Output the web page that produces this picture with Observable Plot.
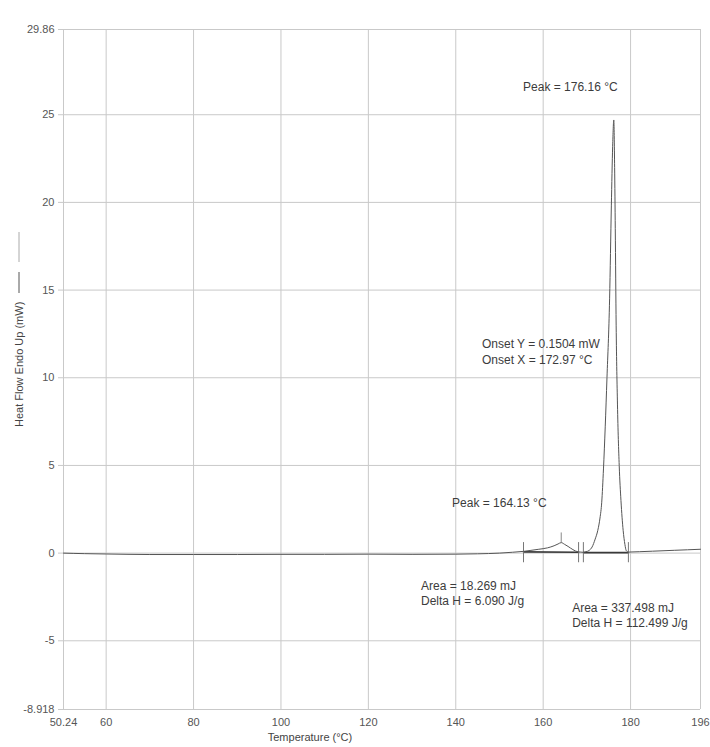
<!DOCTYPE html>
<html>
<head>
<meta charset="utf-8">
<script src="https://cdn.jsdelivr.net/npm/d3@7"></script>
<script src="https://cdn.jsdelivr.net/npm/@observablehq/plot@0.6"></script>
<style>
  html, body { margin: 0; padding: 0; background: #fff; }
  #chart { width: 710px; height: 747px; }
  svg { font-family: "Liberation Sans", Arial, sans-serif; }
</style>
</head>
<body>
<div id="chart"></div>
<script>
// Temperature (°C) and heat flow (mW)
const temperature = [50.24, 55, 60, 70, 80, 90, 100, 110, 120, 130, 140, 145, 150, 153, 155.5, 157, 159, 161, 162.5, 163.4, 164.13, 164.9, 165.7, 166.8, 168, 169, 169.8, 170.5, 171.2, 171.9, 172.5, 173.0, 173.4, 173.8, 174.2, 174.6, 175.2, 175.6, 175.9, 176.16, 176.35, 176.5, 176.7, 177.0, 177.4, 177.8, 178.3, 178.7, 179.0, 179.5, 182, 185, 190, 196];
const heatFlow    = [0.0, -0.03, -0.05, -0.08, -0.08, -0.08, -0.07, -0.07, -0.06, -0.07, -0.06, -0.04, 0.0, 0.05, 0.1, 0.15, 0.22, 0.3, 0.42, 0.52, 0.6, 0.5, 0.38, 0.2, 0.07, 0.05, 0.08, 0.15, 0.35, 0.8, 1.3, 2.0, 2.9, 4.8, 7.2, 10.0, 14.5, 19.8, 23.2, 24.7, 22.0, 18.5, 13.0, 8.5, 5.0, 3.0, 1.3, 0.5, 0.15, 0.06, 0.08, 0.11, 0.16, 0.22];

// Integration baselines and their limit markers
const baseStartT = [155.5, 169.2];
const baseEndT   = [168.1, 179.5];
const baseStartY = [0.07, 0.03];
const baseEndY   = [0.05, 0.03];
const limitT     = [155.5, 168.1, 169.2, 179.5];
const peakMarkT  = [164.13];

// Axis ticks
const xTicks = [50.24, 60, 80, 100, 120, 140, 160, 180, 196];
const yTicks = [-8.918, -5, 0, 5, 10, 15, 20, 25, 29.86];

// Annotations (anchored in data units)
const noteText = ["Peak = 176.16 °C", "Onset Y = 0.1504 mW", "Onset X = 172.97 °C", "Peak = 164.13 °C", "Area = 18.269 mJ", "Delta H = 6.090 J/g", "Area = 337.498 mJ", "Delta H = 112.499 J/g"];
const noteT    = [155.4, 146.0, 146.0, 139.15, 132.05, 132.05, 166.64, 166.64];
const noteY    = [26.6, 11.94, 11.03, 2.86, -1.89, -2.74, -3.14, -4.0];

const curve = temperature.map((t, i) => ({T: t, hf: heatFlow[i]}));
const baselines = baseStartT.flatMap((t, i) => [
  {seg: i, T: t, hf: baseStartY[i]},
  {seg: i, T: baseEndT[i], hf: baseEndY[i]}
]);
const notes = noteText.map((s, i) => ({text: s, T: noteT[i], hf: noteY[i]}));

const ink = "#4a4a4a";
const gridColor = "#c9c9c9";

const plot = Plot.plot({
  width: 710,
  height: 747,
  marginLeft: 63,
  marginRight: 10,
  marginTop: 29,
  marginBottom: 38,
  style: {fontFamily: "Liberation Sans, Arial, sans-serif", fontSize: "11px", color: ink, background: "#fff"},
  x: {domain: [50.24, 196]},
  y: {domain: [-8.918, 29.86]},
  marks: [
    Plot.gridX(xTicks, {stroke: gridColor, strokeOpacity: 1}),
    Plot.gridY(yTicks, {stroke: gridColor, strokeOpacity: 1}),
    Plot.axisX({ticks: xTicks, tickSize: 0, tickPadding: 9, tickFormat: d => String(d), label: null, fill: "#555"}),
    Plot.axisY({ticks: yTicks, tickSize: 5, tickPadding: 4, tickFormat: d => String(d), label: null, stroke: gridColor, fill: "#555"}),
    Plot.line(baselines, {x: "T", y: "hf", z: "seg", stroke: "#3a3a3a", strokeWidth: 1.6}),
    Plot.ruleX(limitT, {y1: -0.55, y2: 0.6, stroke: "#777", strokeWidth: 1}),
    Plot.ruleX(peakMarkT, {y1: 0.6, y2: 1.15, stroke: "#888", strokeWidth: 1}),
    Plot.line(curve, {x: "T", y: "hf", stroke: "#555", strokeWidth: 1, curve: "monotone-x"}),
    Plot.text(notes, {x: "T", y: "hf", text: "text", textAnchor: "start", fontSize: 12, fill: "#3c3c3c"})
  ]
});

document.getElementById("chart").appendChild(plot);

// Axis titles
const svg = d3.select(plot);
svg.append("text")
  .attr("x", 310).attr("y", 741)
  .attr("text-anchor", "middle")
  .attr("font-size", 11)
  .attr("fill", "#444")
  .text("Temperature (°C)");

const yl = svg.append("g").attr("transform", "translate(23,427) rotate(-90)");
yl.append("text")
  .attr("x", 0).attr("y", 0)
  .attr("text-anchor", "start")
  .attr("font-size", 11)
  .attr("fill", "#444")
  .text("Heat Flow Endo Up (mW)");
yl.append("line").attr("x1", 134).attr("x2", 155).attr("y1", -4).attr("y2", -4).attr("stroke", "#555").attr("stroke-width", 1);
yl.append("line").attr("x1", 165).attr("x2", 195).attr("y1", -4).attr("y2", -4).attr("stroke", "#aaa").attr("stroke-width", 1);
</script>
</body>
</html>
